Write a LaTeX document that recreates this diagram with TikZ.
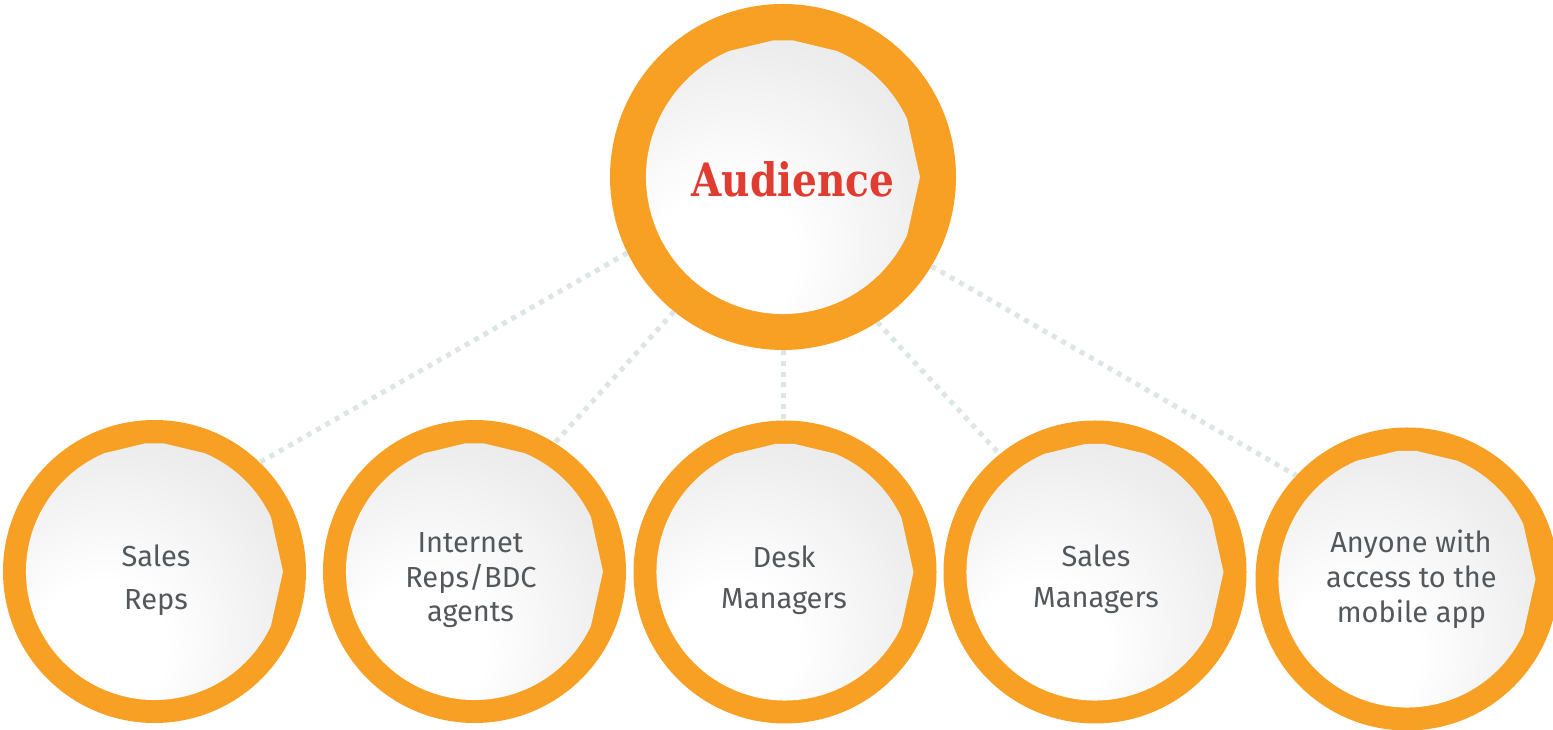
\documentclass[tikz,border=0pt]{standalone}
\usepackage{fontspec}
\newfontfamily\fira{Fira Sans}
\newfontfamily\slab[FakeStretch=0.85]{DejaVu Serif}
\usetikzlibrary{calc}
\definecolor{ringorange}{RGB}{247,160,36}
\definecolor{titlered}{RGB}{224,60,49}
\definecolor{txtgray}{RGB}{83,88,93}
\definecolor{dotgray}{RGB}{221,229,231}
\definecolor{shadeedge}{RGB}{210,210,210}
\definecolor{shademid}{RGB}{233,233,233}
\pgfdeclareradialshading{ball}{\pgfpoint{-10bp}{-15bp}}{color(0bp)=(white); color(12bp)=(white); color(36bp)=(shademid); color(64bp)=(shadeedge)}
\newcommand\innerblob[2]{%
  \shade[shading=ball] ($(#1.center)+(113:#2)$) -- ($(#1.center)+(94:#2)$) -- ($(#1.center)+(86:#2)$) -- ($(#1.center)+(67:#2)$) arc[start angle=67, end angle=25, radius=#2] -- ($(#1.center)+(0:#2)$) -- ($(#1.center)+(-25:#2)$) arc[start angle=-25, end angle=-247, radius=#2] -- cycle;}
\tikzset{
  bigring/.style={circle, fill=ringorange, minimum size=346pt, inner sep=0pt},
  smallring/.style={circle, fill=ringorange, minimum size=303pt, inner sep=0pt},
  dotline/.style={draw=dotgray, line width=5pt, dash pattern=on 5pt off 5.7pt},
  lbl/.style={font=\fira\fontsize{29}{35}\selectfont, text=txtgray, anchor=base, inner sep=0pt},
  title/.style={font=\slab\bfseries\fontsize{46}{50}\selectfont, text=titlered, anchor=base, inner sep=0pt}
}
\begin{document}
\begin{tikzpicture}[x=1pt, y=1pt]
\useasboundingbox[fill=white] (0,0) rectangle (1553,730);
% rings
\node[bigring] (aud) at (783,553) {};
\node[smallring] (s1) at (154.5,158.5) {};
\node[smallring] (s2) at (474.5,158.5) {};
\node[smallring] (s3) at (785,158) {};
\node[smallring] (s4) at (1095,158) {};
\node[smallring] (s5) at (1407,151) {};
% connectors
\draw[dotline] (aud.206) -- (s1.46);
\draw[dotline] (aud.231) -- (s2.58);
\draw[dotline] (aud.270) -- (aud.270 |- s3.north);
\draw[dotline] (aud.-57) -- (s4.129);
\draw[dotline] (aud.-31) -- (s5.137);
% inner discs
\innerblob{aud}{137pt}
\innerblob{s1}{128.5pt}
\innerblob{s2}{128.5pt}
\innerblob{s3}{128.5pt}
\innerblob{s4}{128.5pt}
\innerblob{s5}{128.5pt}
% texts
\node[title] (taud) at (793,533) {Audience};
\node[lbl] (t1a) at (156,163) {Sales};
\node[lbl] (t1b) at (156,120) {Reps};
\node[lbl] (t2a) at (470.5,177) {Internet};
\node[lbl] (t2b) at (471,142) {Reps/BDC};
\node[lbl] (t2c) at (470.5,108) {agents};
\node[lbl] (t3a) at (784,162) {Desk};
\node[lbl] (t3b) at (784,121) {Managers};
\node[lbl] (t4a) at (1096,163) {Sales};
\node[lbl] (t4b) at (1096,122) {Managers};
\node[lbl] (t5a) at (1411,177) {Anyone with};
\node[lbl] (t5b) at (1411.5,142) {access to the};
\node[lbl] (t5c) at (1411.5,107) {mobile app};
\end{tikzpicture}
\end{document}
